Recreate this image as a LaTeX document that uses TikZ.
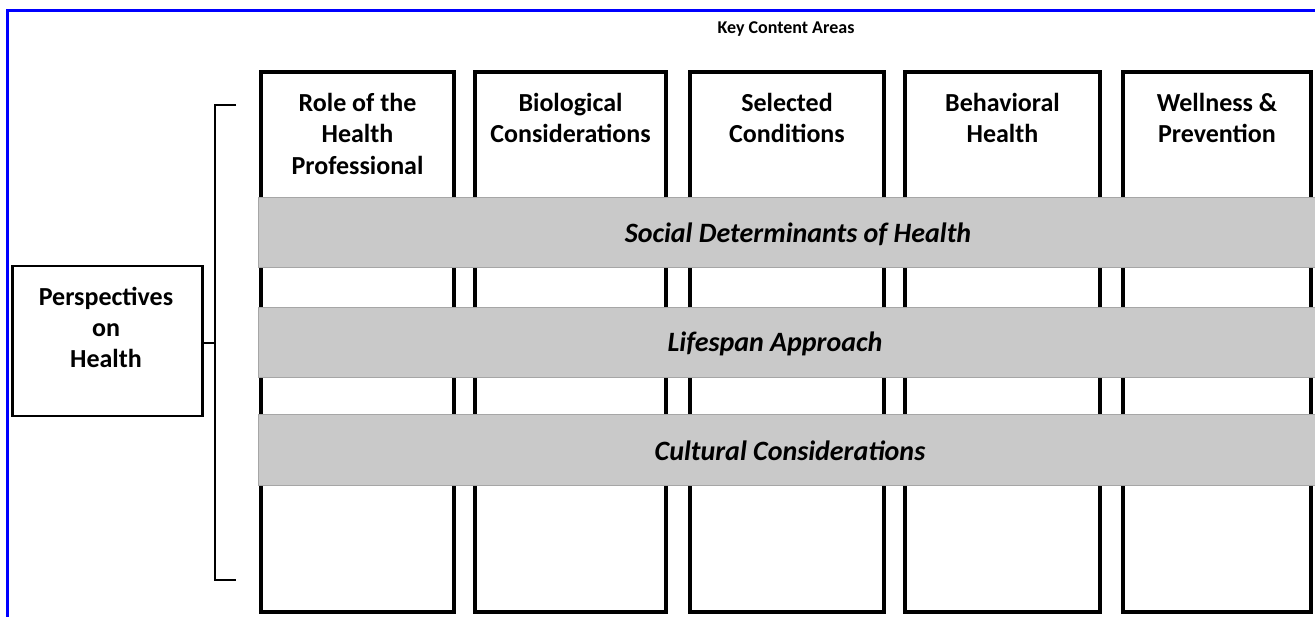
\documentclass[tikz,border=0pt]{standalone}
\usepackage{fontspec}
\setmainfont{Carlito}
\begin{document}
\begin{tikzpicture}[x=1pt,y=-1pt,
  col/.style={draw=black, line width=3.4pt, fill=white, minimum height=540pt, inner sep=0pt},
  coltext/.style={anchor=north, align=center, font=\bfseries\fontsize{26}{31.5}\selectfont, inner sep=0pt},
  band/.style={draw=black!35, line width=1pt, fill=black!21, minimum width=1062pt, minimum height=70pt, inner sep=0pt},
  bandtext/.style={font=\bfseries\itshape\fontsize{28}{32}\selectfont, inner sep=0pt},
  persp/.style={draw=black, line width=2.5pt, fill=white, minimum width=190pt, minimum height=150pt, inner sep=0pt},
  brk/.style={draw=black, line width=2.8pt},
  title/.style={font=\bfseries\fontsize{18}{20}\selectfont, inner sep=0pt}]
\useasboundingbox (0,0) rectangle (1315,617);
% blue frame
\coordinate (fb) at (7,640);
\coordinate (fc) at (7,11);
\coordinate (fr) at (1330,11);
\draw[blue, line width=3pt] (fb) -- (fc) -- (fr);
% title
\node[title] (kca) at (786,29.5) {Key Content Areas};
% columns
\node[col, minimum width=193pt] (c1) at (357.5,342) {};
\node[col, minimum width=191pt] (c2) at (570.5,342) {};
\node[col, minimum width=194pt] (c3) at (787,342) {};
\node[col, minimum width=195pt] (c4) at (1002.5,342) {};
\node[col, minimum width=188pt] (c5) at (1217,342) {};
\node[coltext] (t1) at (357.5,93) {Role of the\\Health\\Professional};
\node[coltext] (t2) at (570.5,93) {Biological\\Considerations};
\node[coltext] (t3) at (787,93) {Selected\\Conditions};
\node[coltext] (t4) at (1002.5,93) {Behavioral\\Health};
\node[coltext] (t5) at (1217,93) {Wellness \&\\Prevention};
% bands
\node[band] (b1) at (789,233) {};
\node[band] (b2) at (789,343) {};
\node[band] (b3) at (789,450) {};
\node[bandtext] (l1) at (798,234) {Social Determinants of Health};
\node[bandtext] (l2) at (775,344) {Lifespan Approach};
\node[bandtext] (l3) at (790,451) {Cultural Considerations};
% perspectives box
\node[persp] (p) at (107.5,341) {};
\node[coltext, font=\bfseries\fontsize{26}{31}\selectfont] (pt) at (106,287) {Perspectives\\on\\Health};
% bracket
\coordinate (bt1) at (236,105);
\coordinate (bt0) at (215,105);
\coordinate (bb0) at (215,580);
\coordinate (bb1) at (236,580);
\draw[brk] (bt1) -- (bt0) -- (bb0) -- (bb1);
\coordinate (bm) at (215,343);
\draw[draw=black, line width=1.2pt] (p.east |- bm) -- (bm);
\end{tikzpicture}
\end{document}
